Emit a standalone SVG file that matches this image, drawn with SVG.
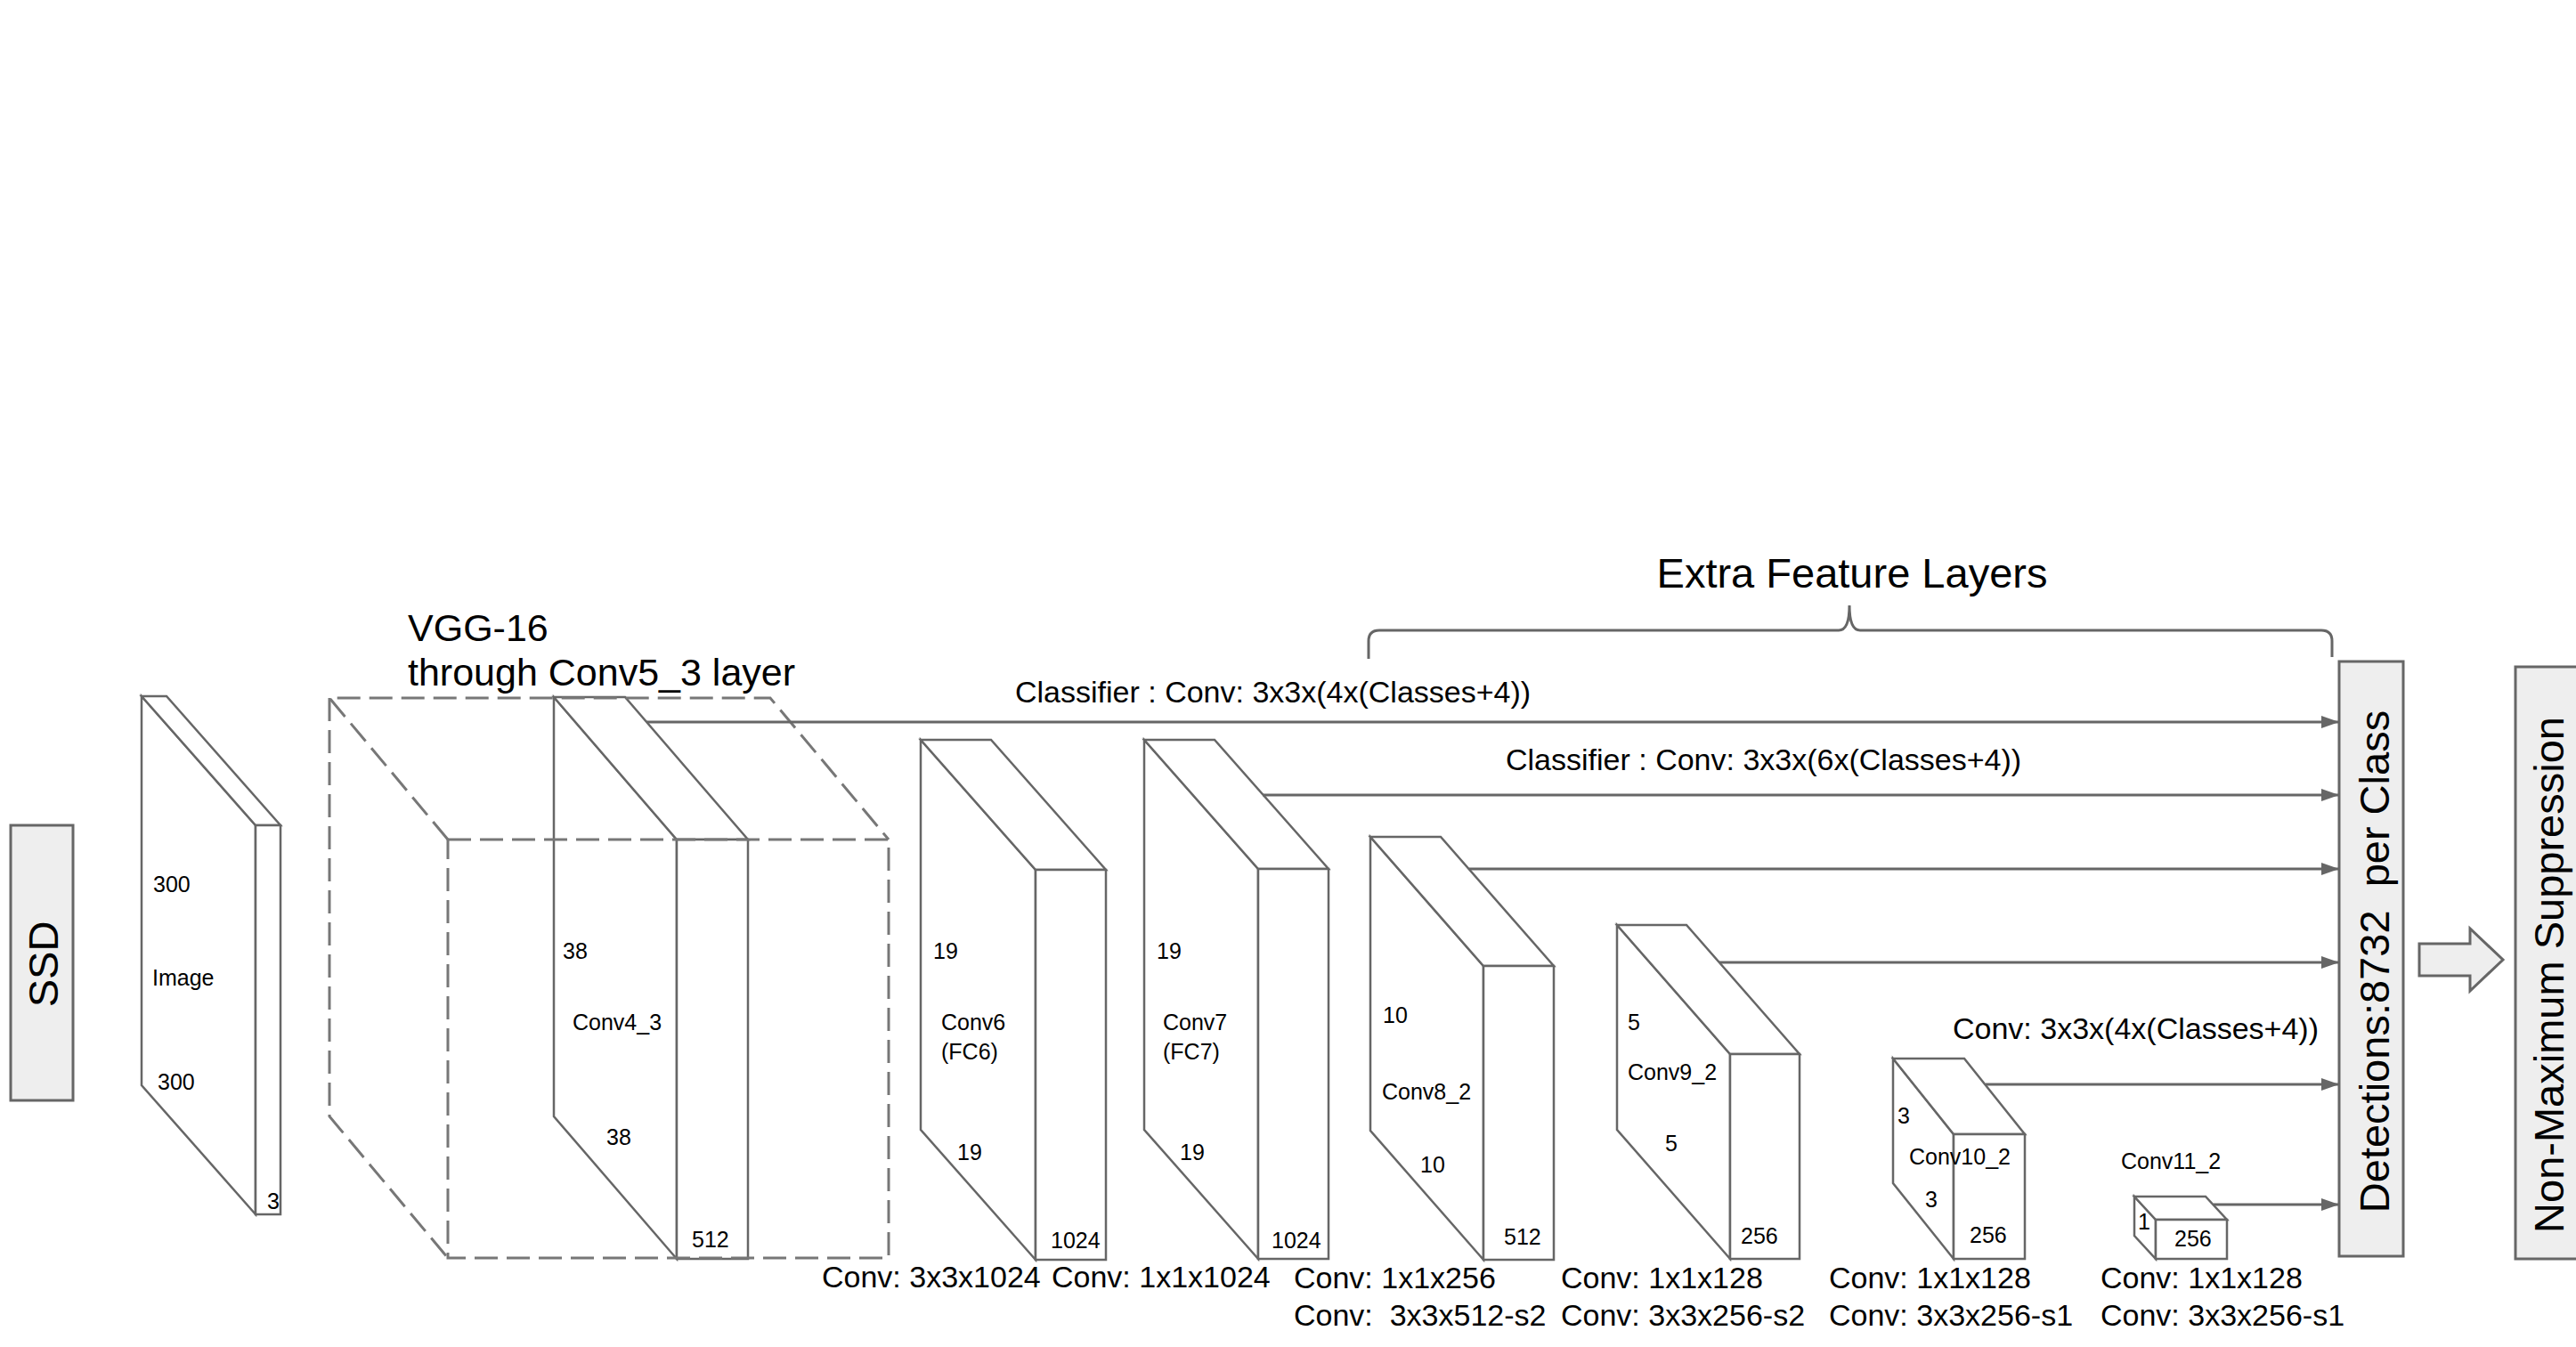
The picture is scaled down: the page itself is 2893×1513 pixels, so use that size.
<svg xmlns="http://www.w3.org/2000/svg" width="2893" height="1513" viewBox="0 0 2893 1513">
<defs>
<style>
text{font-family:"Liberation Sans",Arial,sans-serif;fill:#000;}
.s{font-size:25px;}
.m{font-size:34px;}
.l{font-size:43px;}
.r{font-size:47px;}
.face{fill:#fff;stroke:#666;stroke-width:2.5;stroke-linejoin:miter;}
.box{fill:#eee;stroke:#666;stroke-width:3;}
.dash{fill:none;stroke:#777;stroke-width:3;stroke-dasharray:26 10;}
.conn{fill:none;stroke:#666;stroke-width:3;}
</style>
<marker id="ah" markerUnits="userSpaceOnUse" markerWidth="22" markerHeight="16" refX="20" refY="7" orient="auto">
<path d="M0,0 L20,7 L0,14 Z" fill="#666"/>
</marker>
</defs>
<rect width="2893" height="1513" fill="#fff"/>

<g id="ssd">
<rect class="box" x="12" y="927" width="70" height="309"/>
<text class="r" font-size="46" text-anchor="middle" transform="translate(65,1083) rotate(-90)">SSD</text>
</g>

<g id="image">
<path class="face" d="M159,782 L287,927 L287,1364 L159,1219 Z"/>
<path class="face" d="M159,782 L187,782 L315,927 L287,927 Z"/>
<rect class="face" x="287" y="927" width="28" height="437"/>
<text class="s" x="172" y="1002">300</text>
<text class="s" x="171" y="1107">Image</text>
<text class="s" x="177" y="1224">300</text>
<text class="s" x="300" y="1358">3</text>
</g>

<g id="conv4_3">
<path class="face" d="M622,783 L760,943 L760,1414 L622,1254 Z"/>
<path class="face" d="M622,783 L702,783 L840,943 L760,943 Z"/>
<rect class="face" x="760" y="943" width="80" height="471"/>
<text class="s" x="632" y="1077">38</text>
<text class="s" x="643" y="1157">Conv4_3</text>
<text class="s" x="681" y="1286">38</text>
<text class="s" x="777" y="1401">512</text>
</g>

<g id="vgg16">
<path class="dash" d="M503,943 L998,943 L998,1413 L503,1413 Z"/>
<path class="dash" d="M503,943 L370,784 L865,784 L998,943"/>
<path class="dash" d="M370,784 L370,1254 L503,1413"/>
<text class="l" x="458" y="720">VGG-16</text>
<text class="l" x="458" y="770">through Conv5_3 layer</text>
</g>

<g id="conv6">
<path class="face" d="M1034,831 L1163,977 L1163,1415 L1034,1269 Z"/>
<path class="face" d="M1034,831 L1113,831 L1242,977 L1163,977 Z"/>
<rect class="face" x="1163" y="977" width="79" height="438"/>
<text class="s" x="1048" y="1077">19</text>
<text class="s" x="1057" y="1157">Conv6</text>
<text class="s" x="1057" y="1190">(FC6)</text>
<text class="s" x="1075" y="1303">19</text>
<text class="s" font-size="24" x="1180" y="1402">1024</text>
<text class="m" x="923" y="1446">Conv: 3x3x1024</text>
</g>

<g id="conv7">
<path class="face" d="M1285,831 L1413,976 L1413,1414 L1285,1269 Z"/>
<path class="face" d="M1285,831 L1364,831 L1492,976 L1413,976 Z"/>
<rect class="face" x="1413" y="976" width="79" height="438"/>
<text class="s" x="1299" y="1077">19</text>
<text class="s" x="1306" y="1157">Conv7</text>
<text class="s" x="1306" y="1190">(FC7)</text>
<text class="s" x="1325" y="1303">19</text>
<text class="s" font-size="24" x="1428" y="1402">1024</text>
<text class="m" x="1181" y="1446">Conv: 1x1x1024</text>
</g>

<g id="conv8_2">
<path class="face" d="M1539,940 L1666,1085 L1666,1415 L1539,1270 Z"/>
<path class="face" d="M1539,940 L1618,940 L1745,1085 L1666,1085 Z"/>
<rect class="face" x="1666" y="1085" width="79" height="330"/>
<text class="s" x="1553" y="1149">10</text>
<text class="s" x="1552" y="1235">Conv8_2</text>
<text class="s" x="1595" y="1317">10</text>
<text class="s" x="1689" y="1398">512</text>
<text class="m" x="1453" y="1447">Conv: 1x1x256</text>
<text class="m" x="1453" y="1489" xml:space="preserve">Conv:  3x3x512-s2</text>
</g>

<g id="conv9_2">
<path class="face" d="M1816,1039 L1943,1184 L1943,1414 L1816,1269 Z"/>
<path class="face" d="M1816,1039 L1894,1039 L2021,1184 L1943,1184 Z"/>
<rect class="face" x="1943" y="1184" width="78" height="230"/>
<text class="s" x="1828" y="1157">5</text>
<text class="s" x="1828" y="1213">Conv9_2</text>
<text class="s" x="1870" y="1293">5</text>
<text class="s" x="1955" y="1397">256</text>
<text class="m" x="1753" y="1447">Conv: 1x1x128</text>
<text class="m" x="1753" y="1489">Conv: 3x3x256-s2</text>
</g>

<g id="conv10_2">
<path class="face" d="M2126,1189 L2194,1274 L2194,1414 L2126,1329 Z"/>
<path class="face" d="M2126,1189 L2206,1189 L2274,1274 L2194,1274 Z"/>
<rect class="face" x="2194" y="1274" width="80" height="140"/>
<text class="s" x="2131" y="1262">3</text>
<text class="s" x="2144" y="1308">Conv10_2</text>
<text class="s" x="2162" y="1356">3</text>
<text class="s" x="2212" y="1396">256</text>
<text class="m" x="2054" y="1447">Conv: 1x1x128</text>
<text class="m" x="2054" y="1489">Conv: 3x3x256-s1</text>
</g>

<g id="conv11_2">
<path class="face" d="M2397,1344 L2421,1370 L2421,1414 L2397,1388 Z"/>
<path class="face" d="M2397,1344 L2477,1344 L2501,1370 L2421,1370 Z"/>
<rect class="face" x="2421" y="1370" width="80" height="44"/>
<text class="s" x="2382" y="1313">Conv11_2</text>
<text class="s" font-size="20" x="2401" y="1381">1</text>
<text class="s" font-size="24" x="2442" y="1400">256</text>
<text class="m" x="2359" y="1447">Conv: 1x1x128</text>
<text class="m" x="2359" y="1489">Conv: 3x3x256-s1</text>
</g>

<g id="extra-feature-layers">
<path class="conn" d="M1537,740 L1537,720 Q1537,708 1549,708 L2065,708 Q2077,708 2077,680 Q2077,708 2089,708 L2607,708 Q2619,708 2619,720 L2619,738"/>
<text class="r" font-size="46" x="2080" y="660" text-anchor="middle">Extra Feature Layers</text>
</g>

<g id="detections">
<rect class="box" x="2627" y="743" width="72" height="668"/>
<text class="r" text-anchor="middle" transform="translate(2683,1080) rotate(-90)" xml:space="preserve">Detections:8732  per Class</text>
</g>

<g id="nms">
<rect class="box" x="2825" y="749" width="80" height="665"/>
<text class="r" text-anchor="middle" transform="translate(2879,1095) rotate(-90)">Non-Maximum Suppression</text>
</g>

<g id="connectors">
<line class="conn" x1="726" y1="811" x2="2627" y2="811" marker-end="url(#ah)"/>
<line class="conn" x1="1418" y1="893" x2="2627" y2="893" marker-end="url(#ah)"/>
<line class="conn" x1="1650" y1="976" x2="2627" y2="976" marker-end="url(#ah)"/>
<line class="conn" x1="1931" y1="1081" x2="2627" y2="1081" marker-end="url(#ah)"/>
<line class="conn" x1="2230" y1="1218" x2="2627" y2="1218" marker-end="url(#ah)"/>
<line class="conn" x1="2486" y1="1353" x2="2627" y2="1353" marker-end="url(#ah)"/>
<polygon class="box" points="2717,1060 2774,1060 2774,1043 2811,1078 2774,1113 2774,1096 2717,1096"/>
<text class="m" x="1140" y="789">Classifier : Conv: 3x3x(4x(Classes+4))</text>
<text class="m" x="1691" y="865">Classifier : Conv: 3x3x(6x(Classes+4))</text>
<text class="m" x="2193" y="1167">Conv: 3x3x(4x(Classes+4))</text>
</g>
</svg>
